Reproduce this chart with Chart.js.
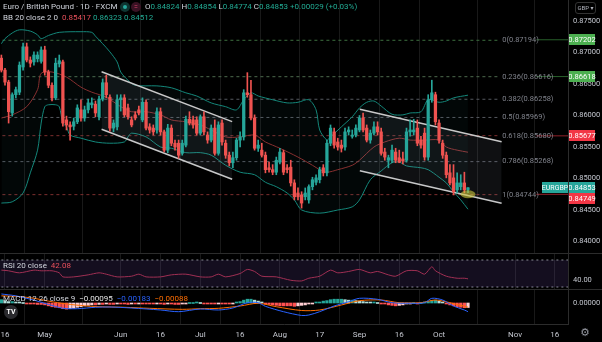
<!DOCTYPE html>
<html>
<head>
<meta charset="utf-8">
<script src="https://cdn.jsdelivr.net/npm/chart.js@4.4.0/dist/chart.umd.min.js"></script>
<style>
  html, body { margin: 0; padding: 0; background: #000; }
  #wrap { position: relative; width: 602px; height: 342px; background: #000; overflow: hidden;
          font-family: Roboto, "DejaVu Sans", sans-serif; }
  canvas { position: absolute; left: 0; }
  .t { position: absolute; white-space: nowrap; color: #d1d4dc; font-size: 8px; line-height: 10px; }
  .sep { position: absolute; left: 0; width: 602px; height: 1px; background: #2c2c2c; }
  .vsep { position: absolute; left: 568px; top: 0; width: 1px; height: 324px; background: #2c2c2c; }
  .up { color: #22ab94; }
  .dn { color: #e8505b; }
  .ico { position: absolute; top: 2px; width: 10px; height: 10px; border-radius: 5px; }
</style>
</head>
<body>
<div id="wrap">
  <canvas id="main" width="602" height="253" style="top:0"></canvas>
  <canvas id="rsi" width="602" height="37" style="top:253px"></canvas>
  <canvas id="macd" width="602" height="52" style="top:290px"></canvas>
  <div class="sep" style="top:253px"></div>
  <div class="sep" style="top:289px"></div>
  <div class="vsep"></div>

  <div class="t" style="left:3px;top:1px;font-size:8px;line-height:12px">Euro / British Pound · 1D · FXCM</div>
  <div class="ico" style="left:120px;background:#0e3531"><div style="position:absolute;left:3px;top:3px;width:4px;height:4px;border-radius:2px;background:#26a69a"></div></div>
  <div class="ico" style="left:131px;background:#3a1224;color:#e0456e;font-size:7px;line-height:10px;text-align:center">=</div>
  <div class="t" style="left:145px;top:2px">O<span class="up">0.84824</span> H<span class="up">0.84854</span> L<span class="up">0.84774</span> C<span class="up">0.84853</span> <span class="up">+0.00029 (+0.03%)</span></div>
  <div class="t" style="left:3px;top:13px">BB 20 close 2 0 &nbsp;<span class="dn">0.85417</span> <span class="up">0.86323</span> <span class="up">0.84512</span></div>
  <div class="t" style="left:575px;top:2px;width:19px;height:10px;border:1px solid #333;border-radius:3px;font-size:6px;text-align:center;color:#b2b5be">GBP ▾</div>

  <div class="t" style="left:3px;top:261px">RSI 20 close &nbsp;<span class="dn">42.08</span></div>
  <div class="t" style="left:3px;top:294px">MACD 12 26 close 9 &nbsp;<span style="color:#e6e6e6">−0.00095</span> &nbsp;<span style="color:#2962ff">−0.00183</span> &nbsp;<span style="color:#ff6d00">−0.00088</span></div>
  <div class="t" style="left:4px;top:305px;width:14px;height:14px;border-radius:7px;background:#2a2a2e;color:#fff;font-size:7px;line-height:14px;text-align:center;font-weight:bold">TV</div>
  <div class="t" style="left:580px;top:327px;font-size:11px;line-height:12px;color:#9598a1">⚙</div>
</div>
<script>
// EUR/GBP daily candles, bar 0 = 16 Apr 2021, one bar per trading day
const firstBar = -1;
const open = [
  .8691,.8672,.8653,.8604,.8633,.8637,.8677,.8709,.8688,.8685,
  .8690,.8686,.8704,.8669,.8648,.8628,.8682,.8685,.8593,.8585,
  .8583,.8590,.8609,.8596,.8609,.8617,.8618,.8598,.8626,.8652,
  .8629,.8580,.8582,.8625,.8628,.8612,.8593,.8601,.8609,.8593,
  .8621,.8582,.8580,.8577,.8606,.8574,.8545,.8580,.8556,.8556,
  .8540,.8553,.8594,.8593,.8593,.8572,.8598,.8569,.8561,.8580,
  .8540,.8588,.8556,.8537,.8525,.8533,.8561,.8566,.8636,.8633,
  .8596,.8548,.8545,.8537,.8517,.8514,.8510,.8526,.8541,.8517,
  .8518,.8493,.8477,.8474,.8471,.8466,.8487,.8494,.8498,.8517,
  .8509,.8556,.8574,.8558,.8553,.8550,.8574,.8567,.8569,.8577,
  .8596,.8580,.8561,.8572,.8582,.8574,.8542,.8529,.8529,.8542,
  .8533,.8531,.8529,.8574,.8574,.8580,.8561,.8572,.8534,.8625,
  .8633,.8588,.8556,.8537,.8509,.8501,.8482,.8487,.8493,.84824];
const high = [
  .8696,.8675,.8656,.8636,.8645,.8685,.8715,.8715,.8693,.8701,
  .8701,.8709,.8710,.8672,.8652,.8691,.8696,.8688,.8599,.8590,
  .8596,.8617,.8625,.8615,.8626,.8628,.8623,.8631,.8658,.8664,
  .8633,.8593,.8633,.8633,.8633,.8618,.8598,.8606,.8615,.8628,
  .8625,.8587,.8585,.8612,.8612,.8577,.8586,.8585,.8561,.8561,
  .8561,.8599,.8606,.8599,.8598,.8601,.8606,.8574,.8585,.8593,
  .8590,.8593,.8561,.8542,.8542,.8564,.8574,.8641,.8668,.8656,
  .8601,.8561,.8556,.8542,.8526,.8522,.8534,.8548,.8545,.8522,
  .8529,.8498,.8485,.8479,.8485,.8490,.8502,.8506,.8518,.8522,
  .8561,.8585,.8580,.8564,.8561,.8580,.8582,.8577,.8585,.8600,
  .8604,.8585,.8577,.8590,.8590,.8580,.8548,.8537,.8553,.8548,
  .8545,.8542,.8580,.8593,.8594,.8593,.8567,.8580,.8633,.8656,
  .8637,.8593,.8561,.8542,.8522,.8522,.8509,.8506,.8510,.84854];
const low = [
  .8669,.8648,.8588,.8599,.8628,.8633,.8672,.8685,.8677,.8680,
  .8685,.8683,.8664,.8644,.8623,.8625,.8677,.8583,.8577,.8561,
  .8577,.8587,.8591,.8591,.8604,.8612,.8598,.8593,.8623,.8628,
  .8575,.8574,.8577,.8607,.8598,.8594,.8582,.8593,.8601,.8590,
  .8577,.8572,.8569,.8572,.8569,.8542,.8541,.8552,.8545,.8532,
  .8537,.8550,.8585,.8580,.8569,.8569,.8569,.8556,.8558,.8537,
  .8537,.8553,.8532,.8520,.8517,.8529,.8550,.8561,.8629,.8593,
  .8545,.8543,.8534,.8509,.8510,.8506,.8506,.8523,.8506,.8509,
  .8488,.8466,.8466,.8453,.8466,.8461,.8482,.8490,.8493,.8504,
  .8504,.8552,.8548,.8545,.8542,.8545,.8569,.8564,.8566,.8574,
  .8574,.8558,.8556,.8569,.8569,.8537,.8529,.8517,.8525,.8525,
  .8525,.8523,.8526,.8567,.8569,.8552,.8548,.8529,.8529,.8621,
  .8585,.8556,.8532,.8501,.8490,.8474,.8477,.8482,.8477,.84774];
const close = [
  .8672,.8653,.8606,.8633,.8641,.8680,.8709,.8688,.8683,.8696,
  .8696,.8704,.8669,.8648,.8628,.8683,.8687,.8588,.8585,.8582,
  .8590,.8612,.8596,.8609,.8620,.8620,.8604,.8626,.8652,.8633,
  .8580,.8588,.8625,.8628,.8601,.8598,.8585,.8596,.8604,.8621,
  .8580,.8577,.8574,.8606,.8574,.8545,.8580,.8556,.8550,.8537,
  .8556,.8594,.8588,.8585,.8572,.8598,.8574,.8561,.8580,.8540,
  .8585,.8558,.8537,.8525,.8533,.8561,.8566,.8636,.8633,.8596,
  .8548,.8553,.8537,.8514,.8514,.8510,.8529,.8542,.8510,.8514,
  .8493,.8471,.8471,.8461,.8477,.8487,.8498,.8501,.8514,.8509,
  .8556,.8580,.8553,.8550,.8548,.8574,.8577,.8569,.8580,.8596,
  .8577,.8561,.8572,.8582,.8574,.8540,.8534,.8533,.8545,.8529,
  .8526,.8528,.8574,.8577,.8577,.8556,.8553,.8534,.8625,.8636,
  .8590,.8561,.8537,.8506,.8493,.8479,.8493,.8493,.8482,.84853];

// Bollinger Bands (20, 2) as [bar, price]
const bbUpper = [[-1,.8714],[0,.8722],[2,.8731],[4,.8736],[7,.8734],[9,.8728],[10,.8722],[12,.8727],
  [15,.8732],[21,.8733],[24,.8732],[25,.8726],[27,.8714],[29,.8701],[31,.8685],[32,.8669],[34,.8656],
  [36,.8648],[42,.8647],[46,.8644],[50,.8636],[53,.8631],[57,.8620],[61,.8614],[64,.8609],[66,.8625],
  [68,.8636],[70,.8631],[74,.8625],[78,.8620],[81,.8621],[84,.8625],[86,.8609],[87,.8577],[89,.8561],
  [90,.8566],[93,.8582],[96,.8598],[98,.8612],[100,.8621],[102,.8623],[104,.8615],[107,.8602],
  [110,.8601],[112,.8604],[115,.8606],[117,.8625],[120,.8621],[122,.8623],[124,.8628],[128,.86323]];
const bbBasis = [[-1,.8596],[2,.8601],[6,.8614],[9,.8641],[10,.8667],[13,.8669],[17,.8661],[21,.8645],
  [24,.8637],[28,.8629],[32,.8614],[35,.8606],[39,.8606],[43,.8601],[46,.8593],[50,.8590],[54,.8585],
  [57,.8577],[61,.8566],[65,.8566],[69,.8569],[72,.8558],[76,.8548],[81,.8534],[85,.8521],[87,.8514],
  [89,.8510],[92,.8514],[96,.8521],[98,.8529],[102,.8550],[105,.8558],[109,.8564],[112,.8561],
  [116,.8561],[120,.8561],[122,.8550],[125,.8545],[128,.85417]];
const bbLower = [[-1,.8461],[2,.8463],[5,.8477],[7,.8509],[9,.8545],[10,.8588],[11,.8614],[12,.8617],
  [14,.8617],[15,.8614],[16,.8588],[17,.8582],[18,.8569],[21,.8564],[25,.8558],[29,.8556],[33,.8558],
  [34,.8566],[35,.8572],[39,.8566],[43,.8550],[46,.8548],[50,.8541],[54,.8541],[57,.8537],[61,.8521],
  [65,.8510],[69,.8506],[72,.8494],[75,.8487],[78,.8477],[80,.8466],[82,.8450],[87,.8445],[92,.8450],
  [96,.8455],[98,.8466],[101,.8498],[104,.8512],[107,.8525],[109,.8526],[111,.8520],[115,.8517],
  [117,.8514],[120,.8502],[122,.8493],[124,.8479],[126,.8466],[128,.84512]];

// RSI 20
const rsi = [[-1,55],[1,54],[4,51],[8,55],[10,54],[13,54],[15,51],[16,45],[19,45],[23,48],[26,51],
  [28,49],[31,45],[35,46],[37,49],[39,45],[43,45],[46,48],[50,49],[54,45],[57,45],[59,49],[61,45],
  [65,50],[67,56],[69,53],[71,46],[75,45],[79,40],[82,39],[84,43],[87,46],[90,55],[92,51],[95,53],
  [98,56],[101,51],[103,53],[106,48],[108,46],[111,54],[114,54],[116,49],[118,60],[119,54],[122,46],
  [125,43],[127,43],[128,42.08]];

// MACD 12 26 9
const macdLine = [[-1,.0019],[3,.0015],[8,.0006],[12,-.0003],[16,-.0011],[20,-.0012],[25,-.0009],
  [29,-.00084],[35,-.00105],[43,-.00147],[48,-.00183],[54,-.00126],[59,-.00147],[63,-.00105],
  [67,.00006],[70,.00006],[72,-.0007],[77,-.00183],[82,-.00263],[84,-.00253],[87,-.00183],
  [91,-.00063],[95,.00027],[98,.00099],[103,.00078],[107,.00006],[112,-.00006],[116,.00006],
  [118,.00099],[121,.00063],[124,-.00063],[127,-.00147],[128,-.00183]];
const macdSignal = [[-1,.0015],[3,.0014],[8,.0010],[12,.0004],[17,-.0002],[22,-.0006],[26,-.00078],
  [33,-.0009],[40,-.00112],[49,-.00133],[54,-.0012],[59,-.00112],[65,-.00063],[70,-.00006],
  [75,-.00078],[82,-.00158],[87,-.00147],[93,-.00042],[98,.00048],[104,.00063],[109,.00006],
  [115,.00006],[119,.00063],[123,.00006],[128,-.00088]];
const macdHist = [
  .0007,.0005,.0003,.0003,.0002,.0001,.0000,-.0001,-.0002,-.0002,
  -.0003,-.0003,-.0004,-.0006,-.0008,-.0009,-.0010,-.0012,-.0013,-.0012,
  -.0011,-.0009,-.0008,-.0006,-.0005,-.0004,-.0004,-.0003,-.0003,-.0002,
  -.0003,-.0003,-.0002,-.0002,-.0002,-.0003,-.0002,-.0002,-.0001,-.0001,
  -.0002,-.0002,-.0002,-.0001,-.0002,-.0003,-.0002,-.0002,-.0003,-.0003,
  -.0002,-.0001,.0000,.0000,.0001,.0000,-.0001,-.0001,-.0001,-.0002,
  -.0001,-.0001,-.0002,-.0002,-.0001,.0001,.0003,.0006,.0008,.0008,
  .0006,.0004,.0002,-.0001,-.0003,-.0004,-.0005,-.0006,-.0006,-.0006,
  -.0006,-.0007,-.0006,-.0005,-.0004,-.0002,-.0001,.0001,.0002,.0004,
  .0005,.0007,.0008,.0008,.0008,.0007,.0006,.0006,.0005,.0004,
  .0003,.0002,.0001,.0001,.0000,-.0001,-.0002,-.0004,-.0005,-.0006,
  -.0005,-.0004,-.0002,-.0001,.0000,-.0001,.0000,.0001,.0003,.0005,
  .0006,.0004,.0002,-.0002,-.0004,-.0006,-.0008,-.0009,-.0010,-.00095];

// drawings: two descending channels [bar, price] and the fib retracement
const chan1Top = [[26.7,.86695],[62.8,.85902]];
const chan1Bot = [[26.7,.85781],[62.8,.84987]];
const chan2Top = [[98.1,.86098],[137.3,.85584]];
const chan2Bot = [[98.1,.85124],[137.3,.84606]];
const fibRatio = [0, 0.236, 0.382, 0.5, 0.618, 0.786, 1];
const fibPrice = [0.87194, 0.86616, 0.86258, 0.85969, 0.85680, 0.85268, 0.84744];
const fibColor = ['#3d6f3f', '#4d6a4d', '#55585f', '#55585f', '#7c2e2e', '#55585f', '#7c2e2e'];
const fibEnd = 136.9;
const levelPrice = [0.87202, 0.86618, 0.85677, 0.84749];
const levelColor = ['#43a047', '#43a047', '#f23645', '#f23645'];
const markBar = 128, markPrice = 0.8475;

// time axis
const tickBars = [0, 11, 32, 43, 54, 65, 76, 87, 98, 109, 120, 141, 152];
const tickText = ['16', 'May', 'Jun', '16', 'Jul', '16', 'Aug', '17', 'Sep', '16', 'Oct', 'Nov', '16'];
const priceTicks = [0.84, 0.845, 0.85, 0.855, 0.86, 0.865, 0.87, 0.875];

const X_MIN = -1.382, X_MAX = 155.65;
const AXIS_W = 34;
const FONT = 'Roboto, "DejaVu Sans", sans-serif';
Chart.defaults.font.family = FONT;
Chart.defaults.animation = false;

const bars = open.map((_, k) => firstBar + k);
const candleColor = close.map((c, k) => c >= open[k] ? '#26a69a' : '#ef5350');
const pts = arr => arr.map(p => ({ x: p[0], y: p[1] }));
const flat = (y) => [{ x: X_MIN - 1, y }, { x: X_MAX + 1, y }];

function xScale(extra) {
  return Object.assign({
    type: 'linear', min: X_MIN, max: X_MAX, offset: false,
    grid: { color: '#191919', drawTicks: false },
    border: { display: false },
    ticks: { display: false, autoSkip: false, maxRotation: 0 },
    afterBuildTicks: s => { s.ticks = tickBars.map(v => ({ value: v })); },
    afterFit: s => { s.height = 0; s.paddingLeft = 0; s.paddingRight = 0; }
  }, extra || {});
}
function yScale(min, max, ticks, fmt) {
  return {
    type: 'linear', position: 'right', min, max,
    grid: { display: false, drawTicks: false },
    border: { display: false },
    ticks: { color: '#c3c6ce', font: { size: 7.5 }, padding: 5, callback: fmt },
    afterBuildTicks: s => { s.ticks = ticks.map(v => ({ value: v })); },
    afterFit: s => { s.width = AXIS_W; s.paddingTop = 0; s.paddingBottom = 0; }
  };
}
const baseOpts = {
  responsive: false, devicePixelRatio: 1,
  layout: { padding: 0, autoPadding: false },
  plugins: { legend: { display: false }, tooltip: { enabled: false } },
  events: []
};
const line = (data, color, extra) => Object.assign({
  type: 'line', data, borderColor: color, borderWidth: 1, pointRadius: 0, fill: false, tension: 0.3
}, extra || {});

// ---------- price pane ----------
const mainSets = [
  { type: 'bar', data: bars.map((b, k) => ({ x: b, y: [open[k], close[k]] })),
    backgroundColor: candleColor, barThickness: 2.6, minBarLength: 1, grouped: false, order: 0 },
  { type: 'bar', data: bars.map((b, k) => ({ x: b, y: [low[k], high[k]] })),
    backgroundColor: candleColor, barThickness: 1, grouped: false, order: 1 },
  line(pts(bbUpper), '#14877a', { fill: '+2', backgroundColor: 'rgba(38,166,154,0.045)', order: 3 }),
  line(pts(bbBasis), '#8c2b2b', { order: 3 }),
  line(pts(bbLower), '#14877a', { order: 3 }),
  line(pts(chan1Top), '#c9c9c9', { borderWidth: 1.5, tension: 0, fill: '+1', backgroundColor: 'rgba(170,175,195,0.09)', order: 2 }),
  line(pts(chan1Bot), '#c9c9c9', { borderWidth: 1.5, tension: 0, order: 2 }),
  line(pts(chan2Top), '#c9c9c9', { borderWidth: 1.5, tension: 0, fill: '+1', backgroundColor: 'rgba(170,175,195,0.09)', order: 2 }),
  line(pts(chan2Bot), '#c9c9c9', { borderWidth: 1.5, tension: 0, order: 2 })
];
fibPrice.forEach((p, k) => mainSets.push(line([{ x: X_MIN - 1, y: p }, { x: fibEnd, y: p }], fibColor[k],
  { borderDash: [3, 3], tension: 0, order: 5 })));
levelPrice.forEach((p, k) => mainSets.push(line([{ x: fibEnd + 10, y: p }, { x: X_MAX + 1, y: p }], levelColor[k],
  { tension: 0, order: 5, borderColor: levelColor[k] + '99' })));

function tag(ctx, x, y, w, text, bg, size) {
  ctx.fillStyle = bg;
  ctx.fillRect(x, Math.round(y - 5.5), w, 11);
  ctx.fillStyle = '#fff';
  ctx.font = size + 'px ' + FONT;
  ctx.textAlign = 'center';
  ctx.textBaseline = 'middle';
  ctx.fillText(text, x + w / 2, Math.round(y - 5.5) + 6);
}

const mainDecor = {
  id: 'mainDecor',
  afterDatasetsDraw(chart) {
    const { ctx, scales: { x, y }, chartArea } = chart;
    ctx.save();
    ctx.beginPath();
    ctx.rect(chartArea.left, chartArea.top, chartArea.width, chartArea.height);
    ctx.clip();
    ctx.font = '7.5px ' + FONT;
    ctx.fillStyle = '#80838c';
    ctx.textAlign = 'left';
    ctx.textBaseline = 'middle';
    fibPrice.forEach((p, k) => {
      ctx.fillText(fibRatio[k] + '(' + p.toFixed(5) + ')', x.getPixelForValue(fibEnd) + 2, y.getPixelForValue(p));
    });
    ctx.fillStyle = 'rgba(205,200,60,0.6)';
    ctx.beginPath();
    ctx.ellipse(x.getPixelForValue(markBar), y.getPixelForValue(markPrice), 7.5, 4, 0, 0, Math.PI * 2);
    ctx.fill();
    ctx.restore();
  },
  afterDraw(chart) {
    const { ctx, scales: { y }, chartArea } = chart;
    const x0 = chartArea.right + 1;
    const last = close[close.length - 1];
    const tags = [
      { p: levelPrice[0], bg: '#4caf50' }, { p: levelPrice[1], bg: '#4caf50' },
      { p: levelPrice[2], bg: '#f23645' }, { p: last, bg: '#26a69a', sym: true },
      { p: levelPrice[3], bg: '#f23645' }
    ];
    let prevBottom = -99;
    tags.forEach(t => {
      let py = y.getPixelForValue(t.p);
      if (py - 5.5 < prevBottom) py = prevBottom + 5.5;
      prevBottom = py + 5.5;
      tag(ctx, x0, py, 26, t.p.toFixed(5), t.bg, 7.5);
      if (t.sym) tag(ctx, chartArea.right - 26, py, 26, 'EURGBP', t.bg, 7);
    });
  }
};

new Chart(document.getElementById('main'), {
  type: 'bar',
  data: { datasets: mainSets },
  options: Object.assign({}, baseOpts, {
    scales: {
      x: xScale(),
      y: yScale(0.838175, 0.878333, priceTicks, v => v.toFixed(5))
    }
  }),
  plugins: [mainDecor]
});

// ---------- RSI pane ----------
new Chart(document.getElementById('rsi'), {
  type: 'line',
  data: { datasets: [
    line(flat(70), '#8a8d96', { borderDash: [2, 3], tension: 0, fill: '+1', backgroundColor: 'rgba(126,87,194,0.16)' }),
    line(flat(30), '#8a8d96', { borderDash: [2, 3], tension: 0 }),
    line(pts(rsi), '#a8283f', { tension: 0.25 })
  ] },
  options: Object.assign({}, baseOpts, {
    scales: {
      x: xScale(),
      y: yScale(25.56, 80.37, [40], v => v.toFixed(2))
    }
  })
});

// ---------- MACD pane ----------
const histColor = macdHist.map((v, k) => {
  const prev = k > 0 ? macdHist[k - 1] : v;
  if (v >= 0) return v >= prev ? '#26a69a' : '#b2dfdb';
  return v <= prev ? '#ff5252' : '#ffcdd2';
});

new Chart(document.getElementById('macd'), {
  type: 'bar',
  data: { datasets: [
    { type: 'bar', data: bars.map((b, k) => ({ x: b, y: macdHist[k] })),
      backgroundColor: histColor, barThickness: 2.6, minBarLength: 1, order: 2 },
    line(pts(macdLine), '#2962ff', { order: 0 }),
    line(pts(macdSignal), '#ff6d00', { order: 1 })
  ] },
  options: Object.assign({}, baseOpts, {
    scales: {
      x: xScale({
        border: { display: true, color: '#2c2c2c' },
        ticks: { display: true, autoSkip: false, maxRotation: 0, color: '#c3c6ce', font: { size: 8 }, padding: 6,
                 callback: (v, i) => tickText[i] },
        afterFit: s => { s.height = 18; s.paddingLeft = 0; s.paddingRight = 0; }
      }),
      y: yScale(-0.00442, 0.002737, [0], v => v.toFixed(5))
    }
  })
});
</script>
</body>
</html>
